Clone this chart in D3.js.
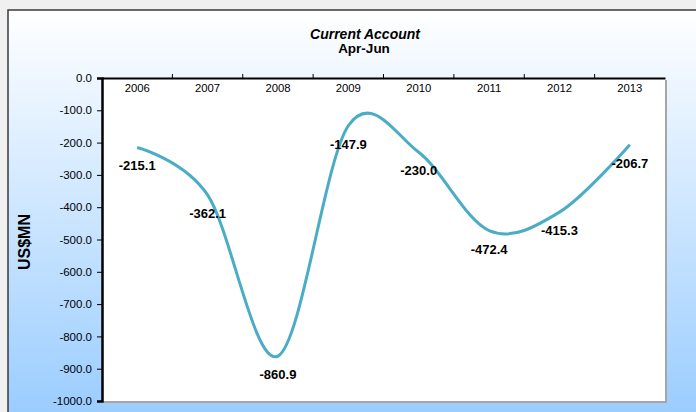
<!DOCTYPE html>
<html><head><meta charset="utf-8">
<script src="https://cdn.jsdelivr.net/npm/d3@7/dist/d3.min.js"></script>
<style>body{margin:0;background:#f0f0f0;}svg{display:block;}</style>
</head><body>
<svg id="c" width="696" height="412"></svg>
<script>
const years = ["2006","2007","2008","2009","2010","2011","2012","2013"];
const values = [-215.1,-362.1,-860.9,-147.9,-230.0,-472.4,-415.3,-206.7];
const yTicks = [0,-100,-200,-300,-400,-500,-600,-700,-800,-900,-1000];
const title1 = "Current Account", title2 = "Apr-Jun", yTitle = "US$MN";

const svg = d3.select("#c");
const F = "'Liberation Sans', Arial, sans-serif";
const L = 102, R = 665, T = 78, B = 401;

const defs = svg.append("defs");
const g = defs.append("linearGradient").attr("id","bg").attr("x1",0).attr("y1",0).attr("x2",0).attr("y2",1);
g.append("stop").attr("offset","0%").attr("stop-color","#ffffff");
g.append("stop").attr("offset","100%").attr("stop-color","#99ccff");

svg.append("rect").attr("width",696).attr("height",412).attr("fill","#f0f0f0");
svg.append("rect").attr("x",8).attr("y",10).attr("width",700).attr("height",410).attr("fill","url(#bg)")
  .attr("stroke","#3a3a3a").attr("stroke-width",1.5);

// plot area with shadow
svg.append("rect").attr("x",L+2).attr("y",T+2).attr("width",R-L).attr("height",B-T).attr("fill","#a6a6a6");
svg.append("rect").attr("x",L).attr("y",T).attr("width",R-L).attr("height",B-T).attr("fill","#ffffff");

const x = d3.scaleBand().domain(years).range([L,R]);
const y = d3.scaleLinear().domain([-1000,0]).range([B,T]);

// y axis
const ya = svg.append("g").attr("transform",`translate(${L},0)`)
  .call(d3.axisLeft(y).tickValues(yTicks).tickSize(5).tickPadding(5).tickFormat(d=>d.toFixed(1)));
ya.select(".domain").attr("stroke","#000").attr("stroke-width",2.5);
ya.selectAll(".tick line").attr("stroke","#000").attr("stroke-width",1);
ya.selectAll("text").attr("font-family",F).attr("font-size",11.5).attr("fill","#000");

// x axis at top
const xa = svg.append("g").attr("transform",`translate(0,${T})`)
  .call(d3.axisTop(x).tickSize(0).tickFormat(d=>d));
xa.select(".domain").attr("stroke","#000").attr("stroke-width",2);
xa.selectAll(".tick text").attr("font-family",F).attr("font-size",11.3).attr("fill","#000")
  .attr("y",14).attr("dy",0);
// boundary ticks
const bounds = years.slice(1).map(d=>x(d));
svg.append("g").selectAll("line").data(bounds).enter().append("line")
  .attr("x1",d=>d).attr("x2",d=>d).attr("y1",T-4).attr("y2",T).attr("stroke","#000").attr("stroke-width",1);

// line
const pts = years.map((d,i)=>[x(d)+x.bandwidth()/2, y(values[i])]);
svg.append("path").datum(pts).attr("fill","none").attr("stroke","#4bacc6").attr("stroke-width",3)
  .attr("stroke-linecap","butt")
  .attr("d", d3.line().curve(d3.curveCardinal.tension(0)));

// labels
svg.append("g").selectAll("text").data(values).enter().append("text")
  .attr("x",(d,i)=>x(years[i])+x.bandwidth()/2)
  .attr("y",d=>y(d)+23)
  .attr("text-anchor","middle").attr("font-family",F).attr("font-size",13).attr("font-weight","bold")
  .text(d=>d.toFixed(1));

// titles
svg.append("text").attr("x",365).attr("y",39).attr("text-anchor","middle").attr("font-family",F)
  .attr("font-size",14).attr("font-weight","bold").attr("font-style","italic").text(title1);
svg.append("text").attr("x",364).attr("y",52.5).attr("text-anchor","middle").attr("font-family",F)
  .attr("font-size",13.5).attr("font-weight","bold").text(title2);
svg.append("text").attr("transform","translate(30,242) rotate(-90)").attr("text-anchor","middle")
  .attr("font-family",F).attr("font-size",16).attr("font-weight","bold").text(yTitle);
</script>
</body></html>
